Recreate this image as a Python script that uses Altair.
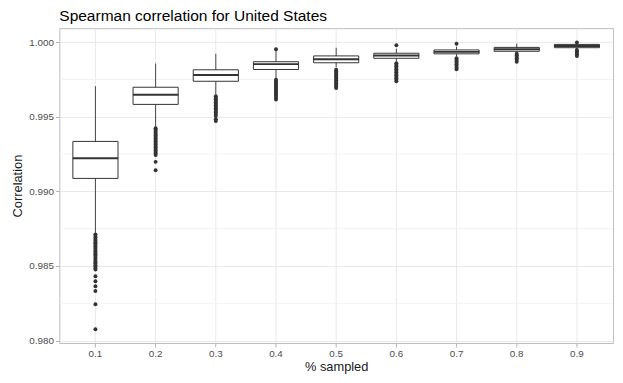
import altair as alt
import pandas as pd

# ---- data ----
title_text = ["Spearman correlation for United States"]
cats = ["0.1", "0.2", "0.3", "0.4", "0.5", "0.6", "0.7", "0.8", "0.9"]
whisk_lo = [0.98722, 0.99432, 0.99651, 0.99755, 0.99831, 0.99871, 0.99904, 0.99928, 0.99955]
q1 = [0.99087, 0.99583, 0.99738, 0.99817, 0.99862, 0.99892, 0.99922, 0.99939, 0.99963]
median = [0.99222, 0.99647, 0.99780, 0.99853, 0.99886, 0.99910, 0.99935, 0.99952, 0.99975]
q3 = [0.99335, 0.99698, 0.99815, 0.99869, 0.99908, 0.99926, 0.99948, 0.99965, 0.99985]
whisk_hi = [0.99705, 0.99857, 0.99922, 0.99940, 0.99963, 0.99957, 0.99970, 0.99990, 0.99992]

out_01 = [0.98712, 0.98702, 0.98691, 0.98681, 0.98671, 0.98660, 0.98650, 0.98641, 0.98630,
          0.98620, 0.98609, 0.98599, 0.98588, 0.98578, 0.98568, 0.98557, 0.98547, 0.98536,
          0.98526, 0.98516, 0.98505, 0.98495, 0.98486, 0.98476, 0.98431, 0.98398, 0.98365,
          0.98332, 0.98244, 0.98076]
out_02 = [0.99424, 0.99414, 0.99404, 0.99394, 0.99384, 0.99374, 0.99364, 0.99354, 0.99344,
          0.99334, 0.99324, 0.99314, 0.99304, 0.99294, 0.99284, 0.99274, 0.99264, 0.99254,
          0.99244, 0.99198, 0.99142]
out_03 = [0.99638, 0.99628, 0.99618, 0.99608, 0.99598, 0.99588, 0.99578, 0.99568, 0.99558,
          0.99548, 0.99538, 0.99528, 0.99518, 0.99505, 0.99483, 0.99472]
out_04 = [0.99952, 0.99749, 0.99739, 0.99729, 0.99719, 0.99709, 0.99699, 0.99689, 0.99679,
          0.99669, 0.99659, 0.99649, 0.99639, 0.99628, 0.99616]
out_05 = [0.99815, 0.99805, 0.99795, 0.99785, 0.99775, 0.99765, 0.99755, 0.99745, 0.99735,
          0.99725, 0.99715, 0.99704, 0.99693]
out_06 = [0.99979, 0.99859, 0.99849, 0.99839, 0.99829, 0.99819, 0.99809, 0.99799, 0.99789,
          0.99779, 0.99769, 0.99759, 0.99749, 0.99738]
out_07 = [0.99990, 0.99892, 0.99882, 0.99872, 0.99862, 0.99852, 0.99842, 0.99831, 0.99819]
out_08 = [0.99922, 0.99912, 0.99902, 0.99892, 0.99882, 0.99869]
out_09 = [0.99998, 0.99948, 0.99938, 0.99928, 0.99918, 0.99908]

y_ticks = [0.980, 0.985, 0.990, 0.995, 1.000]
y_minor = [0.9825, 0.9875, 0.9925, 0.9975]
y_domain = [0.97984, 1.00094]

# ---- tables ----
stats = pd.DataFrame({"cat": cats, "lo": whisk_lo, "q1": q1, "med": median,
                      "q3": q3, "hi": whisk_hi})
outs = [out_01, out_02, out_03, out_04, out_05, out_06, out_07, out_08, out_09]
out_df = pd.DataFrame([{"cat": c, "v": v} for c, lst in zip(cats, outs) for v in lst])
minor_df = pd.DataFrame({"v": y_minor})
title_df = pd.DataFrame({"t": title_text})

FONT = "Liberation Sans"
DARK = "#333333"

xscale = alt.Scale(type="band", domain=cats, paddingInner=0, paddingOuter=0.1)
yscale = alt.Scale(domain=y_domain, nice=False, zero=False)

xaxis = alt.Axis(title="% sampled", bandPosition=0.5, grid=True, gridColor="#E6E6E6",
                 gridWidth=0.9, domain=False, tickColor="#B3B3B3", tickSize=4,
                 labelPadding=2, labelAngle=0, labelColor="#4D4D4D", labelFontSize=10,
                 labelFont=FONT, titleFont=FONT, titleFontSize=13, titleFontWeight="normal",
                 titleColor="#1A1A1A", titleBaseline="alphabetic", titleY=28)
yaxis = alt.Axis(title="Correlation", values=y_ticks, format=".3f", grid=True,
                 gridColor="#E6E6E6", gridWidth=0.9, domain=False, tickColor="#B3B3B3",
                 tickSize=4, labelPadding=2, labelColor="#4D4D4D", labelFontSize=10,
                 labelFont=FONT, titleFont=FONT, titleFontSize=13, titleFontWeight="normal",
                 titleColor="#1A1A1A", titleBaseline="middle", titleAlign="center",
                 titleAngle=-90, titleX=-42, titleY=159.5)

minor = alt.Chart(minor_df).mark_rule(color="#EFEFEF", strokeWidth=0.8).encode(
    y=alt.Y("v:Q", scale=yscale, axis=yaxis)
)

whiskers = alt.Chart(stats).mark_rule(color="#444444", strokeWidth=1).encode(
    x=alt.X("cat:N", scale=xscale, axis=xaxis),
    y=alt.Y("lo:Q", scale=yscale, axis=yaxis),
    y2="hi:Q",
)

boxes = alt.Chart(stats).mark_bar(
    fill="white", stroke=DARK, strokeWidth=1, width=alt.RelativeBandSize(0.75)
).encode(
    x=alt.X("cat:N", scale=xscale, axis=xaxis),
    y=alt.Y("q1:Q", scale=yscale, axis=yaxis),
    y2="q3:Q",
)

medians = alt.Chart(stats).mark_tick(color=DARK, thickness=2, size=46, opacity=1).encode(
    x=alt.X("cat:N", scale=xscale, axis=xaxis),
    y=alt.Y("med:Q", scale=yscale, axis=yaxis),
)

points = alt.Chart(out_df).mark_circle(color=DARK, size=16, opacity=1).encode(
    x=alt.X("cat:N", scale=xscale, axis=xaxis),
    y=alt.Y("v:Q", scale=yscale, axis=yaxis),
)

title = alt.Chart(title_df).mark_text(
    align="left", baseline="alphabetic", font=FONT, fontSize=15.7, color="#000000"
).encode(x=alt.value(0), y=alt.value(-7), text="t:N")

chart = alt.layer(minor, whiskers, boxes, medians, points, title).properties(
    width=561,
    height=319,
    autosize=alt.AutoSizeParams(type="none"),
    padding={"left": 52, "top": 18, "right": 2, "bottom": 30},
).configure_view(stroke="#BDBDBD", strokeWidth=1)

chart.save("out.html", embed_options={"renderer": "svg", "actions": False})
